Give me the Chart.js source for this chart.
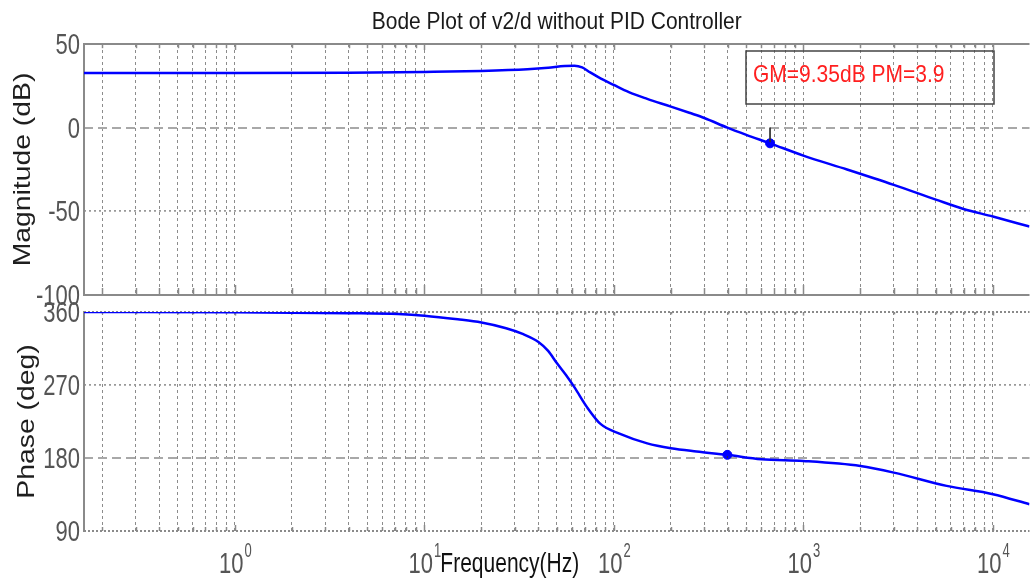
<!DOCTYPE html>
<html>
<head>
<meta charset="utf-8">
<script src="https://cdn.jsdelivr.net/npm/chart.js@4.4.0/dist/chart.umd.min.js"></script>
<style>
  html, body { margin: 0; padding: 0; background: #fff; }
  #wrap { position: relative; width: 1035px; height: 580px; overflow: hidden; }
  #wrap .box { position: absolute; left: 0; width: 1035px; }
  #magBox { top: 0; height: 315px; }
  #phaseBox { top: 290px; height: 290px; }
</style>
</head>
<body>
<div id="wrap">
  <div class="box" id="magBox"><canvas id="magChart"></canvas></div>
  <div class="box" id="phaseBox"><canvas id="phaseChart"></canvas></div>
</div>
<script>
// ---- data ----
const magFreq = [0.16, 1, 4, 10, 20, 35, 45, 55, 62, 68, 75, 85, 100, 120, 150, 200, 250, 300, 397, 500, 667, 1000, 1700, 3000, 5000, 7000, 10000, 15600]
const magDb = [32.7, 32.7, 32.8, 33.3, 33.9, 34.9, 35.8, 36.9, 37.0, 36.0, 33.0, 29.5, 25.5, 21.2, 17.2, 12.6, 8.9, 5.8, 0, -4.3, -9.35, -16.7, -25, -34.2, -43, -48.6, -53.1, -59.1]

const phaseFreq = [0.16, 1, 4, 7.3, 10, 15, 20, 27, 33, 40, 45, 50, 56, 62, 72, 85, 107, 150, 200, 273, 397, 600, 1000, 2000, 3000, 5700, 10000, 15600]
const phaseDeg = [360, 359.8, 358.6, 357.5, 355.5, 351, 347, 340, 333, 323, 312, 297, 282, 267, 243, 222, 210, 198, 192, 188, 183.9, 178.5, 176.3, 170.1, 162, 145.6, 135.4, 123]

const xGridTicks = [0.2, 0.3, 0.4, 0.5, 0.6, 0.7, 0.8, 0.9, 1, 2, 3, 4, 5, 6, 7, 8, 9, 10, 20, 30, 40, 50, 60, 70, 80, 90,
  100, 200, 300, 400, 500, 600, 700, 800, 900, 1000, 2000, 3000, 4000, 5000, 6000, 7000, 8000, 9000, 10000]
const xDecades = [1, 10, 100, 1000, 10000]
const decadeExp = ["0", "1", "2", "3", "4"]
const magTicks = [-100, -50, 0, 50]
const phaseTicks = [90, 180, 270, 360]

const gmFreq = 667, gmDb = -9.35
const pmFreq = 397, pmDeg = 183.9
const marginText = "GM=9.35dB PM=3.9"
const titleText = "Bode Plot of v2/d without PID Controller"
const xTitle = "Frequency(Hz)"

const SANS = "Liberation Sans"

// ---- text helpers: the source picture is stretched vertically ----
function tallText(ctx, text, x, y, size, sy, align, color) {
  ctx.save()
  ctx.translate(x, y)
  ctx.scale(1, sy)
  ctx.font = `${size}px "${SANS}"`
  ctx.fillStyle = color
  ctx.textAlign = align
  ctx.textBaseline = "alphabetic"
  ctx.fillText(text, 0, 0)
  ctx.restore()
}

function sideText(ctx, text, cx, cy, size, sx, color) {
  ctx.save()
  ctx.translate(cx, cy)
  ctx.rotate(-Math.PI / 2)
  ctx.scale(sx, 1)
  ctx.font = `${size}px "${SANS}"`
  ctx.fillStyle = color
  ctx.textAlign = "center"
  ctx.textBaseline = "middle"
  ctx.fillText(text, 0, 0)
  ctx.restore()
}

function seg(ctx, x1, y1, x2, y2) {
  ctx.beginPath()
  ctx.moveTo(x1, y1)
  ctx.lineTo(x2, y2)
  ctx.stroke()
}

// ---- plugins ----
// MATLAB style box and inner ticks
const framePlugin = {
  id: "frame",
  beforeDatasetsDraw(chart, args, opts) {
    const { ctx, chartArea: a, scales } = chart
    ctx.save()
    ctx.strokeStyle = "#8a8a8a"
    ctx.lineWidth = 2
    seg(ctx, a.left, a.top - 1, a.left, a.bottom + 1)
    ctx.setLineDash(opts.dotted ? [2, 2] : [])
    seg(ctx, a.left, a.top, a.right, a.top)
    seg(ctx, a.left, a.bottom, a.right, a.bottom)
    ctx.setLineDash([])
    ctx.lineWidth = 1.5
    xGridTicks.forEach((v) => {
      const x = Math.round(scales.x.getPixelForValue(v)) + 0.5
      const len = xDecades.includes(v) ? opts.major : opts.minor
      seg(ctx, x, a.bottom, x, a.bottom - len)
      seg(ctx, x, a.top, x, a.top + len * 0.6)
    })
    ctx.restore()
  },
}

// y tick labels and y title
const yTextPlugin = {
  id: "yText",
  afterDraw(chart, args, opts) {
    const { ctx, chartArea: a, scales } = chart
    opts.ticks.forEach((v) => {
      const y = scales.y.getPixelForValue(v)
      tallText(ctx, String(v), a.left - 4, y + 10, 22, 1.3, "right", "#555")
    })
    sideText(ctx, opts.title, opts.titleX, (a.top + a.bottom) / 2, 24, 1.18, "#1e1e1e")
  },
}

// title + GM / PM annotation box
const magTextPlugin = {
  id: "magText",
  afterDraw(chart) {
    const { ctx, chartArea: a } = chart
    tallText(ctx, titleText, (a.left + a.right) / 2, 29, 21, 1.13, "center", "#1a1a1a")
    ctx.save()
    ctx.strokeStyle = "#444"
    ctx.lineWidth = 1.5
    ctx.strokeRect(a.left + 662, a.top + 7, 248, 53)
    ctx.restore()
    tallText(ctx, marginText, a.left + 669, a.top + 38, 21, 1.18, "left", "#ff1f1f")
  },
}

// decade labels 10^n and the frequency caption
const xLabelPlugin = {
  id: "xLabels",
  afterDraw(chart) {
    const { ctx, chartArea: a, scales } = chart
    const base = a.bottom + 42
    ctx.save()
    xDecades.forEach((v, i) => {
      const x = scales.x.getPixelForValue(v)
      ctx.font = `22px "${SANS}"`
      const w1 = ctx.measureText("10").width
      ctx.font = `13px "${SANS}"`
      const w2 = ctx.measureText(decadeExp[i]).width
      const x0 = x - (w1 + w2) / 2
      tallText(ctx, "10", x0, base, 22, 1.3, "left", "#555")
      tallText(ctx, decadeExp[i], x0 + w1 + 1, base - 16, 13, 1.5, "left", "#555")
    })
    ctx.restore()
    tallText(ctx, xTitle, scales.x.getPixelForValue(10) + 16, base - 1, 21, 1.35, "left", "#111")
  },
}

// ---- shared scale pieces ----
function xScale() {
  return {
    type: "logarithmic",
    min: 0.16,
    max: 15600,
    afterBuildTicks: (s) => {
      s.ticks = xGridTicks.map((v) => ({ value: v }))
    },
    ticks: { display: false },
    grid: { color: "#8c8c8c", lineWidth: 1, drawTicks: false },
    border: { display: false, dash: [3, 3] },
  }
}

function yScale(ticks, dashedVal, dottedVal) {
  return {
    type: "linear",
    min: ticks[0],
    max: ticks[ticks.length - 1],
    afterBuildTicks: (s) => {
      s.ticks = ticks.map((v) => ({ value: v }))
    },
    afterFit: (s) => {
      s.width = 84
    },
    ticks: { display: false },
    grid: {
      drawTicks: false,
      color: (c) => {
        if (!c.tick) return "rgba(0,0,0,0)"
        if (c.tick.value === dashedVal) return "#a8a8a8"
        if (c.tick.value === dottedVal) return "#999"
        return "rgba(0,0,0,0)"
      },
      lineWidth: (c) => (c.tick && c.tick.value === dashedVal ? 2 : 1.8),
    },
    border: {
      display: false,
      dash: (c) => (c.tick && c.tick.value === dashedVal ? [9, 5] : [2, 3]),
    },
  }
}

const lineStyle = {
  borderColor: "#0000ff",
  borderWidth: 2.5,
  pointRadius: 0,
  cubicInterpolationMode: "monotone",
  fill: false,
}

Chart.defaults.animation = false

// ---- magnitude ----
new Chart(document.getElementById("magChart"), {
  type: "line",
  data: {
    datasets: [
      { ...lineStyle, data: magFreq.map((f, i) => ({ x: f, y: magDb[i] })) },
      {
        data: [{ x: gmFreq, y: 0 }, { x: gmFreq, y: gmDb }],
        borderColor: "#333",
        borderWidth: 1,
        pointRadius: 0,
      },
      {
        data: [{ x: gmFreq, y: gmDb }],
        showLine: false,
        pointRadius: 4.5,
        pointBackgroundColor: "#0000ff",
        pointBorderColor: "#0000ff",
      },
    ],
  },
  options: {
    responsive: true,
    maintainAspectRatio: false,
    layout: { padding: { left: 0, right: 0, top: 44, bottom: 20 } },
    plugins: {
      legend: { display: false },
      tooltip: { enabled: false },
      frame: { dotted: false, major: 10, minor: 7 },
      yText: { ticks: magTicks, title: "Magnitude (dB)", titleX: 23 },
    },
    scales: {
      x: xScale(),
      y: yScale(magTicks, 0, -50),
    },
  },
  plugins: [framePlugin, yTextPlugin, magTextPlugin],
})

// ---- phase ----
new Chart(document.getElementById("phaseChart"), {
  type: "line",
  data: {
    datasets: [
      { ...lineStyle, data: phaseFreq.map((f, i) => ({ x: f, y: phaseDeg[i] })) },
      {
        data: [{ x: pmFreq, y: 180 }, { x: pmFreq, y: pmDeg }],
        borderColor: "#333",
        borderWidth: 1,
        pointRadius: 0,
      },
      {
        data: [{ x: pmFreq, y: pmDeg }],
        showLine: false,
        pointRadius: 4.5,
        pointBackgroundColor: "#0000ff",
        pointBorderColor: "#0000ff",
      },
    ],
  },
  options: {
    responsive: true,
    maintainAspectRatio: false,
    layout: { padding: { left: 0, right: 0, top: 22, bottom: 0 } },
    plugins: {
      legend: { display: false },
      tooltip: { enabled: false },
      frame: { dotted: true, major: 6, minor: 4 },
      yText: { ticks: phaseTicks, title: "Phase (deg)", titleX: 27 },
    },
    scales: {
      x: {
        ...xScale(),
        afterFit: (s) => {
          s.height = 49
        },
      },
      y: yScale(phaseTicks, 180, 270),
    },
  },
  plugins: [framePlugin, yTextPlugin, xLabelPlugin],
})
</script>
</body>
</html>
